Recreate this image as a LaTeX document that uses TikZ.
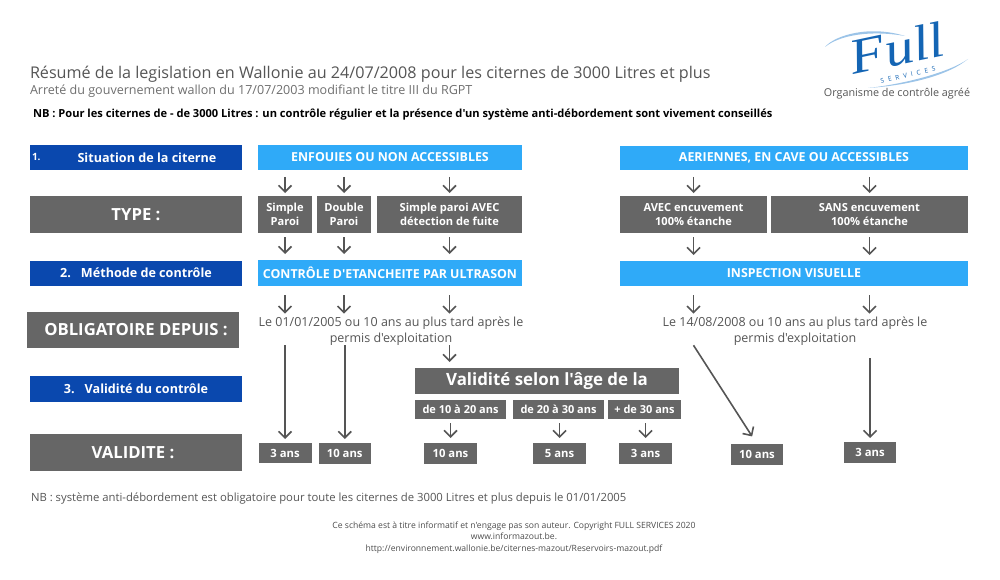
\documentclass[tikz,border=0pt]{standalone}
\usepackage{fontspec}
\setmainfont{Open Sans}[Ligatures=TeXOff]
\newfontfamily\logofont{Liberation Serif}
\usetikzlibrary{arrows.meta}
\definecolor{greybox}{HTML}{666666}
\definecolor{navy}{HTML}{0A48AE}
\definecolor{sky}{HTML}{2FAAF8}
\definecolor{ink}{HTML}{555555}
\definecolor{swoosh}{HTML}{9CC4E8}
\definecolor{logoblue}{HTML}{1465B4}
\tikzset{
  boxbase/.style={inner sep=0pt,outer sep=0pt,align=center,text=white,font=\bfseries},
  greyb/.style={boxbase,fill=greybox},
  navyb/.style={boxbase,fill=navy,font=\bfseries\fontsize{12.6}{14}\selectfont},
  skyb/.style={boxbase,fill=sky,font=\bfseries\fontsize{12.4}{14}\selectfont},
  bigb/.style={greyb,font=\bfseries\fontsize{16.7}{19}\selectfont},
  typeb/.style={greyb,font=\bfseries\fontsize{11.1}{14.5}\selectfont},
  ageb/.style={greyb,font=\bfseries\fontsize{11}{12}\selectfont},
  ansb/.style={greyb,font=\bfseries\fontsize{11.3}{13}\selectfont},
  plain/.style={inner sep=0pt,outer sep=0pt,text=ink},
  para/.style={plain,align=center,font=\fontsize{12.5}{16}\selectfont},
  arr/.style={draw=ink,line width=1.6pt,-{Straight Barb[length=6.5pt,width=13pt,line width=1.6pt]}},
}
\newcommand{\bx}[7]{\node[#6,minimum width={(#4-#2)*1pt},minimum height={(#5-#3)*1pt}] (#1) at ({(#2+#4)/2},{(#3+#5)/2}) {#7};}
\begin{document}
\begin{tikzpicture}[x=1pt,y=-1pt]
\useasboundingbox (0,0) rectangle (1000,580);
% header
\node[plain,anchor=west,font=\fontsize{16.15}{18}\selectfont,text=ink] (title) at (30,74.5) {Résumé de la legislation en Wallonie au 24/07/2008 pour les citernes de 3000 Litres et plus};
\node[plain,anchor=west,font=\fontsize{12.55}{14}\selectfont,text=ink!85] (subtitle) at (30,91) {Arreté du gouvernement wallon du 17/07/2003 modifiant le titre III du RGPT};
\node[plain,anchor=west,font=\bfseries\fontsize{11.1}{13}\selectfont,text=black] (nbtop) at (33,115) {NB : Pour les citernes de - de 3000 Litres : un contrôle régulier et la présence d'un système anti-débordement sont vivement conseillés};
% logo
\fill[swoosh] (825,47) .. controls (835,35) and (870,25) .. (905,36) .. controls (870,30) and (840,35) .. (825,47) -- cycle;
\fill[swoosh] (868,88) .. controls (900,86) and (945,78) .. (968,59) .. controls (950,72) and (905,84) .. (868,88) -- cycle;
\node[inner sep=0pt,text=logoblue,rotate=12,xscale=1.15,font=\logofont\itshape\fontsize{50}{50}\selectfont] (logoword) at (897,48) {Full};
\node[inner sep=0pt,text=logoblue,rotate=13,font=\fontsize{6.5}{8}\selectfont] (logoservices) at (908,75) {S\hspace{4pt}E\hspace{4pt}R\hspace{4pt}V\hspace{4pt}I\hspace{4pt}C\hspace{4pt}E\hspace{4pt}S};
\node[plain,font=\fontsize{10.8}{12}\selectfont] (agree) at (897,94) {Organisme de contrôle agréé};
% left column
\bx{sit}{30}{145}{242}{170}{navyb}{\hspace{22pt}Situation de la citerne}
\node[plain,text=white,anchor=west,font=\bfseries\fontsize{10}{12}\selectfont] (sitnum) at (32,157) {1.};
\bx{typel}{30}{196}{242}{233}{bigb}{TYPE :}
\bx{meth}{30}{260.5}{242}{286}{navyb}{2.\hspace{10pt}Méthode de contrôle}
\bx{oblig}{27}{312}{239}{348}{bigb}{\hspace{6pt}OBLIGATOIRE DEPUIS :}
\bx{valc}{30}{375.5}{242}{401.5}{navyb}{3.\hspace{10pt}Validité du contrôle}
\bx{vall}{30}{434}{242}{471}{bigb}{VALIDITE :\hspace{6pt}}
% left block
\bx{enf}{258}{145}{522}{170}{skyb}{ENFOUIES OU NON ACCESSIBLES}
\bx{simple}{258}{196}{312}{233}{typeb}{Simple\\Paroi}
\bx{double}{317}{196}{371}{233}{typeb}{Double\\Paroi}
\bx{detect}{377}{196}{522}{233}{typeb}{Simple paroi AVEC\\détection de fuite}
\bx{ultra}{258}{260}{522}{286}{skyb}{CONTRÔLE D'ETANCHEITE PAR ULTRASON}
\node[para] (ltxt) at (391,331) {Le 01/01/2005 ou 10 ans au plus tard après le\\permis d'exploitation};
\bx{age}{415}{368}{679}{394}{greyb,font=\bfseries\fontsize{16.9}{19}\selectfont}{Validité selon l'âge de la}
\bx{agea}{415}{400}{506}{419}{ageb}{de 10 à 20 ans}
\bx{ageb}{513}{400}{604}{419}{ageb}{de 20 à 30 ans}
\bx{agec}{608}{400}{681}{419}{ageb}{+ de 30 ans}
\bx{ansa}{258.5}{443}{311.5}{463}{ansb}{3 ans}
\bx{ansb}{318.5}{443}{371}{464}{ansb}{10 ans}
\bx{ansc}{424}{443}{477}{464}{ansb}{10 ans}
\bx{ansd}{533}{443}{586}{464}{ansb}{5 ans}
\bx{anse}{619}{443}{672}{464}{ansb}{3 ans}
% right block
\bx{aer}{620}{146}{968}{170}{skyb}{AERIENNES, EN CAVE OU ACCESSIBLES}
\bx{avec}{620}{196}{767}{233}{typeb}{AVEC encuvement\\100\% étanche}
\bx{sans}{771}{196}{968}{233}{typeb}{SANS encuvement\\100\% étanche}
\bx{insp}{620}{261}{968}{286}{skyb}{INSPECTION VISUELLE}
\node[para] (rtxt) at (795,331) {Le 14/08/2008 ou 10 ans au plus tard après le\\permis d'exploitation};
\bx{ansf}{731}{444}{783}{465}{ansb}{10 ans}
\bx{ansg}{844}{442}{896}{463}{ansb}{3 ans}
% arrows: top row
\draw[arr,shorten <=7pt,shorten >=3pt] (enf.south -| simple.north) -- (simple.north);
\draw[arr,shorten <=7pt,shorten >=3pt] (enf.south -| double.north) -- (double.north);
\draw[arr,shorten <=7pt,shorten >=3pt] (enf.south -| detect.north) -- (detect.north);
\draw[arr,shorten <=7pt,shorten >=3pt] (aer.south -| avec.north) -- (avec.north);
\draw[arr,shorten <=7pt,shorten >=3pt] (aer.south -| sans.north) -- (sans.north);
% arrows: second row
\draw[arr,shorten <=4pt,shorten >=6pt] (simple.south) -- (simple.south |- ultra.north);
\draw[arr,shorten <=4pt,shorten >=6pt] (double.south) -- (double.south |- ultra.north);
\draw[arr,shorten <=4pt,shorten >=6pt] (detect.south) -- (detect.south |- ultra.north);
\draw[arr,shorten <=4pt,shorten >=6pt] (avec.south) -- (avec.south |- insp.north);
\draw[arr,shorten <=4pt,shorten >=6pt] (sans.south) -- (sans.south |- insp.north);
% arrows: third row
\draw[arr,shorten <=9pt,shorten >=3pt] (ultra.south -| simple.north) -- (simple.north |- ltxt.north);
\draw[arr,shorten <=9pt,shorten >=3pt] (ultra.south -| double.north) -- (double.north |- ltxt.north);
\draw[arr,shorten <=9pt,shorten >=3pt] (ultra.south -| detect.north) -- (detect.north |- ltxt.north);
\draw[arr,shorten <=9pt,shorten >=3pt] (insp.south -| avec.north) -- (avec.north |- rtxt.north);
\draw[arr,shorten <=9pt,shorten >=3pt] (insp.south -| sans.north) -- (sans.north |- rtxt.north);
% long arrows
\draw[arr,shorten <=0pt,shorten >=4pt] (ltxt.south -| ansa.north) -- (ansa.north);
\draw[arr,shorten <=0pt,shorten >=4pt] (ltxt.south -| ansb.north) -- (ansb.north);
\draw[arr,shorten <=0pt,shorten >=6pt] (ltxt.south -| detect.south) -- (detect.south |- age.north);
\draw[arr,shorten <=4pt,shorten >=5pt] (agea.south -| ansc.north) -- (ansc.north);
\draw[arr,shorten <=4pt,shorten >=5pt] (ageb.south -| ansd.north) -- (ansd.north);
\draw[arr,shorten <=4pt,shorten >=5pt] (agec.south -| anse.north) -- (anse.north);
\draw[arr,shorten <=0pt,shorten >=9pt] (rtxt.south -| avec.north) -- (ansf.north);
\draw[arr,shorten <=13pt,shorten >=4pt] (rtxt.south -| ansg.north) -- (ansg.north);
% footer
\node[plain,anchor=west,font=\fontsize{11.3}{13}\selectfont] (nbbottom) at (31,499) {NB : système anti-débordement est obligatoire pour toute les citernes de 3000 Litres et plus depuis le 01/01/2005};
\node[plain,align=center,font=\fontsize{8.6}{11.5}\selectfont,text=ink!90!black] (foot) at (514,537.5) {Ce schéma est à titre informatif et n'engage pas son auteur. Copyright FULL SERVICES 2020\\www.informazout.be.\\http://environnement.wallonie.be/citernes-mazout/Reservoirs-mazout.pdf};
\end{tikzpicture}
\end{document}
